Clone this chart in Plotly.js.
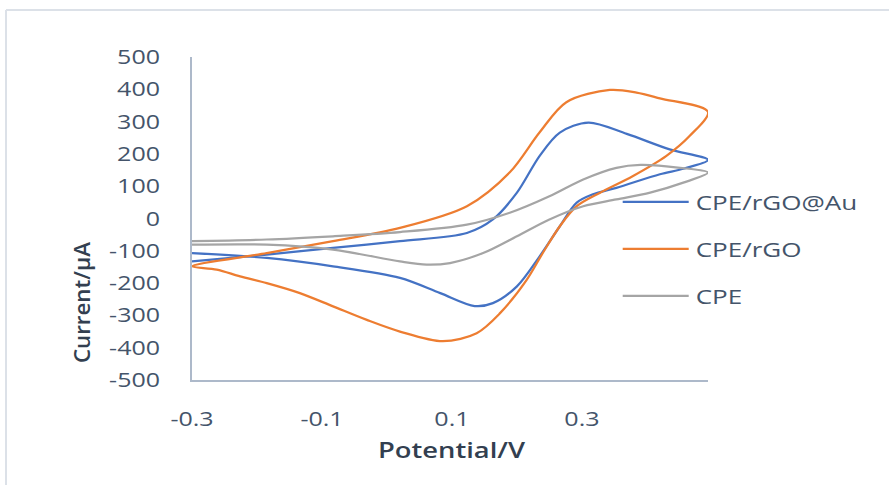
<!DOCTYPE html>
<html>
<head>
<meta charset="utf-8">
<script src="https://cdn.plot.ly/plotly-3.0.1.min.js"></script>
<style>html,body{margin:0;padding:0;background:#fff;}#chart{width:889px;height:485px;}</style>
</head>
<body>
<div id="chart"></div>
<script>
// ---- Data ----
const seriesNames = ["CPE/rGO@Au", "CPE/rGO", "CPE"];

// CPE/rGO@Au : forward scan then reverse scan
const auPotential = [-0.3, -0.185, -0.083, 0.02, 0.123, 0.163, 0.2, 0.235, 0.266, 0.31, 0.369, 0.435, 0.494,
                     0.456, 0.42, 0.353, 0.317, 0.292, 0.266, 0.235, 0.2, 0.163, 0.135, 0.082, 0.02, -0.083, -0.185, -0.3];
const auCurrent   = [-133, -112, -91, -70, -45, -3, 80, 194, 266, 297, 262, 214, 181,
                     154, 137, 95, 75, 49, -24, -117, -210, -262, -271, -231, -184, -148, -122, -107];

// CPE/rGO
const rgoPotential = [-0.3, -0.185, -0.083, 0.02, 0.123, 0.189, 0.235, 0.276, 0.343, 0.384, 0.42, 0.494,
                      0.466, 0.43, 0.378, 0.328, 0.292, 0.266, 0.24, 0.215, 0.174, 0.138, 0.086, 0.02, -0.031, -0.083, -0.134, -0.185, -0.226, -0.262, -0.3];
const rgoCurrent   = [-148, -107, -70, -29, 38, 143, 267, 360, 398, 390, 372, 330,
                      256, 194, 131, 80, 38, -24, -106, -190, -293, -355, -380, -350, -314, -272, -231, -200, -179, -158, -148];

// CPE
const cpePotential = [-0.3, -0.185, -0.083, 0.02, 0.123, 0.189, 0.25, 0.302, 0.353, 0.39, 0.451, 0.494,
                      0.456, 0.405, 0.353, 0.302, 0.25, 0.2, 0.148, 0.097, 0.061, 0.02, -0.083, -0.185, -0.3];
const cpeCurrent   = [-70, -65, -55, -42, -19, 18, 69, 121, 157, 166, 157, 142,
                      111, 80, 59, 38, -3, -55, -107, -138, -143, -133, -96, -81, -81];

const xTickVals = [-0.3, -0.1, 0.1, 0.3];
const xTickText = ["-0.3", "-0.1", "0.1", "0.3"];
const yTickVals = [500, 400, 300, 200, 100, 0, -100, -200, -300, -400, -500];
const yTickText = ["500", "400", "300", "200", "100", "0", "-100", "-200", "-300", "-400", "-500"];

const colors = ["#4472C4", "#ED7D31", "#A5A5A5"];
const xs = [auPotential, rgoPotential, cpePotential];
const ys = [auCurrent, rgoCurrent, cpeCurrent];

const traces = seriesNames.map((n, i) => ({
  type: "scatter", mode: "lines", name: n, x: xs[i], y: ys[i],
  line: {color: colors[i], width: 2.25, shape: "spline", smoothing: 0.9},
  legendgroup: "g" + i
}));

const tickFont = {family: "Open Sans, sans-serif", size: 20, color: "#44546A"};
const titleFont = {family: "Open Sans, sans-serif", size: 21, color: "#333F50", weight: 600};

const layout = {
  width: 889, height: 485,
  margin: {l: 192, r: 181, t: 57, b: 105},
  paper_bgcolor: "#ffffff", plot_bgcolor: "#ffffff",
  showlegend: true,
  legend: {x: 0.825, xanchor: "left", y: 0.612, yanchor: "top", font: tickFont,
           itemwidth: 68, tracegroupgap: 18, bgcolor: "rgba(0,0,0,0)"},
  xaxis: {range: [-0.3, 0.494], tickvals: xTickVals, ticktext: xTickText, showgrid: false, zeroline: false,
          showline: true, linecolor: "#ADB9CA", linewidth: 2, ticks: "", tickfont: tickFont, ticklabelstandoff: 20},
  yaxis: {range: [-500, 500], tickvals: yTickVals, ticktext: yTickText, showgrid: false, zeroline: false,
          showline: true, linecolor: "#ADB9CA", linewidth: 2, ticks: "", tickfont: tickFont, ticklabelstandoff: 26},
  annotations: [
    {text: "Potential/V", xref: "paper", yref: "paper", x: 0.504, y: -0.2167, xanchor: "center", yanchor: "middle",
     showarrow: false, font: titleFont},
    {text: "Current/μA", xref: "paper", yref: "paper", x: -0.214, y: 0.2384, xanchor: "center", yanchor: "middle",
     textangle: -90, showarrow: false, font: titleFont}
  ],
  shapes: [
    {type: "line", xref: "paper", yref: "paper", x0: -0.3605, x1: 1.36, y0: 1.1455, y1: 1.1455, line: {color: "#DCE1E8", width: 2}},
    {type: "line", xref: "paper", yref: "paper", x0: -0.3605, x1: -0.3605, y0: 1.1455, y1: -0.33, line: {color: "#DCE1E8", width: 2}}
  ]
};

function stretch(sel, k) {
  document.querySelectorAll(sel).forEach(el => {
    const w = el.getComputedTextLength();
    if (w > 0) {
      el.setAttribute("textLength", (w * k).toFixed(1));
      el.setAttribute("lengthAdjust", "spacingAndGlyphs");
    }
  });
}
function fitText(el, len) {
  el.setAttribute("textLength", len);
  el.setAttribute("lengthAdjust", "spacingAndGlyphs");
}

Plotly.newPlot("chart", traces, layout, {displayModeBar: false, staticPlot: true}).then(() => {
  document.querySelectorAll(".legendlines path").forEach(p => p.setAttribute("d", "M5,0h66"));
  document.querySelectorAll(".legend, .legend [clip-path]").forEach(e => e.removeAttribute("clip-path"));
  stretch(".xtick text", 1.25);
  stretch(".ytick text", 1.25);
  stretch(".legendtext", 1.3);
  const ann = document.querySelectorAll(".annotation-text");
  if (ann[0]) fitText(ann[0], 147);
  if (ann[1]) fitText(ann[1], 121);
});
</script>
</body>
</html>
